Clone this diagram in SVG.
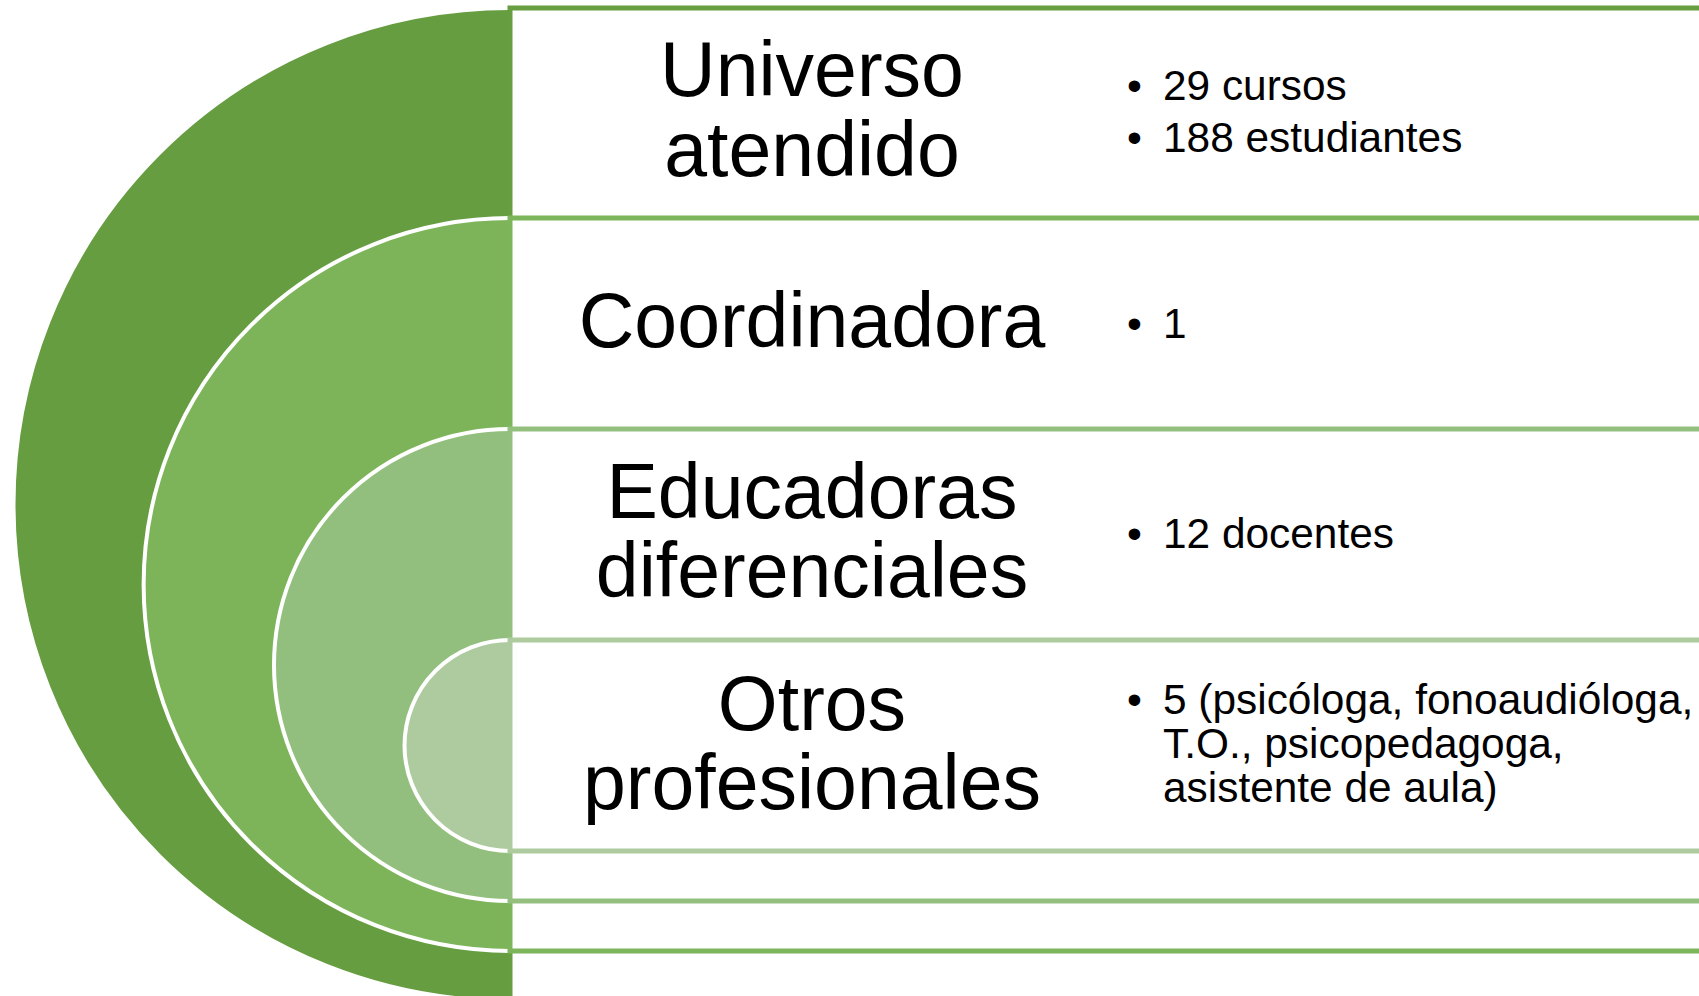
<svg xmlns="http://www.w3.org/2000/svg" width="1699" height="996" viewBox="0 0 1699 996">
  <style>
    .arc { stroke: #FFFFFF; stroke-width: 4; fill: none; }
    .box { fill: #FFFFFF; stroke-width: 5; }
    .title { font-family: "Liberation Sans", Arial, sans-serif; font-size: 77px; fill: #000000; text-anchor: middle; }
    .item { font-family: "Liberation Sans", Arial, sans-serif; font-size: 42.4px; fill: #000000; }
    .c1 { fill: #669D41; } .s1 { stroke: #669E41; }
    .c2 { fill: #7DB45A; } .s2 { stroke: #7DB55B; }
    .c3 { fill: #93BF7E; } .s3 { stroke: #93C07F; }
    .c4 { fill: #AECB9F; } .s4 { stroke: #ADCB9E; }
  </style>
  <rect x="0" y="0" width="1699" height="996" fill="#FFFFFF"/>

  <g id="level1">
    <path class="c1" d="M510,8 A496.5,496.5 0 0 0 510,1001 Z"/>
    <path class="arc" d="M510,8 A496.5,496.5 0 0 0 510,1001"/>
    <rect class="box s1" x="510" y="8" width="1220" height="993"/>
    <text class="title" x="812" y="96">Universo</text>
    <text class="title" x="812" y="176">atendido</text>
    <text class="item" x="1127" y="100">•</text>
    <text class="item" x="1163" y="100">29 cursos</text>
    <text class="item" x="1127" y="152">•</text>
    <text class="item" x="1163" y="152">188 estudiantes</text>
  </g>

  <g id="level2">
    <path class="c2" d="M510,218 A366.5,366.5 0 0 0 510,951 Z"/>
    <path class="arc" d="M510,218 A366.5,366.5 0 0 0 510,951"/>
    <rect class="box s2" x="510" y="218" width="1220" height="733"/>
    <text class="title" x="812" y="347">Coordinadora</text>
    <text class="item" x="1127" y="338">•</text>
    <text class="item" x="1163" y="338">1</text>
  </g>

  <g id="level3">
    <path class="c3" d="M510,429 A236,236 0 0 0 510,901 Z"/>
    <path class="arc" d="M510,429 A236,236 0 0 0 510,901"/>
    <rect class="box s3" x="510" y="429" width="1220" height="472"/>
    <text class="title" x="812" y="518">Educadoras</text>
    <text class="title" x="812" y="597">diferenciales</text>
    <text class="item" x="1127" y="548">•</text>
    <text class="item" x="1163" y="548">12 docentes</text>
  </g>

  <g id="level4">
    <path class="c4" d="M510,640 A105.5,105.5 0 0 0 510,851 Z"/>
    <path class="arc" d="M510,640 A105.5,105.5 0 0 0 510,851"/>
    <rect class="box s4" x="510" y="640" width="1220" height="211"/>
    <text class="title" x="812" y="730">Otros</text>
    <text class="title" x="812" y="809">profesionales</text>
    <text class="item" x="1127" y="714">•</text>
    <text class="item" x="1163" y="714">5 (psicóloga, fonoaudióloga,</text>
    <text class="item" x="1163" y="758">T.O., psicopedagoga,</text>
    <text class="item" x="1163" y="802">asistente de aula)</text>
  </g>
</svg>
